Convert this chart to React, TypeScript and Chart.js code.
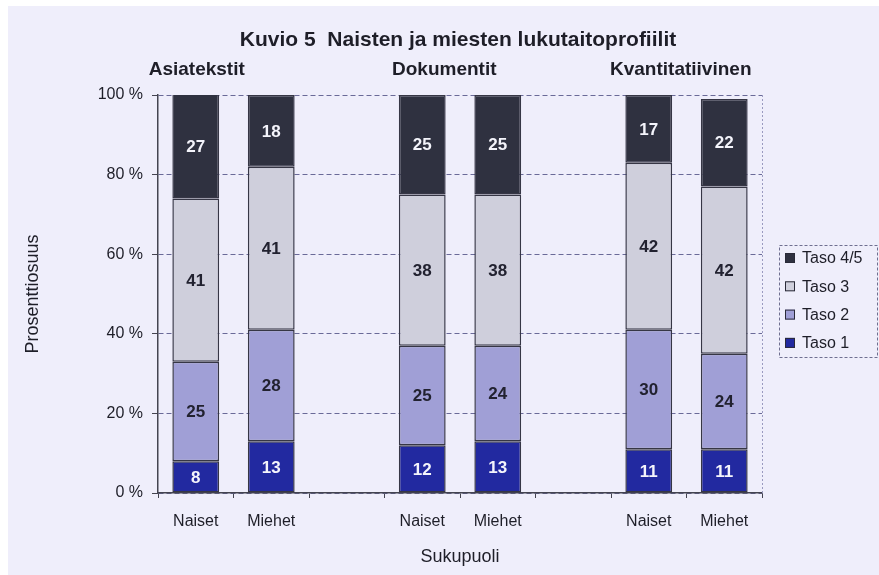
import React, { useEffect, useRef } from "react";
import { Chart, registerables } from "chart.js";

Chart.register(...registerables);

const categories = ["Naiset", "Miehet", "", "Naiset", "Miehet", "", "Naiset", "Miehet"];
const taso1 = [8, 13, null, 12, 13, null, 11, 11];
const taso2 = [25, 28, null, 25, 24, null, 30, 24];
const taso3 = [41, 41, null, 38, 38, null, 42, 42];
const taso45 = [27, 18, null, 25, 25, null, 17, 22];
const seriesNames = ["Taso 1", "Taso 2", "Taso 3", "Taso 4/5"];
const yTicks = [0, 20, 40, 60, 80, 100];
const groupNames = ["Asiatekstit", "Dokumentit", "Kvantitatiivinen"];
const chartTitle = "Kuvio 5  Naisten ja miesten lukutaitoprofiilit";
const yTitle = "Prosenttiosuus";
const xTitle = "Sukupuoli";

const FONT = "'Liberation Sans', Arial, sans-serif";
const colors = ["#2229a0", "#a09fd6", "#cfcfdc", "#2f3140"];
const labelColors = ["#f4f4fb", "#222230", "#222230", "#f4f4fb"];

const extras = {
  id: "extras",
  afterDatasetsDraw(chart: any) {
    const ctx = chart.ctx;
    ctx.save();
    ctx.font = `bold 17px ${FONT}`;
    ctx.textAlign = "center";
    ctx.textBaseline = "middle";
    chart.data.datasets.forEach((ds: any, di: number) => {
      const meta = chart.getDatasetMeta(di);
      meta.data.forEach((el: any, i: number) => {
        const v = ds.data[i];
        if (v === null || v === undefined) return;
        const top = Math.max(el.y, chart.chartArea.top);
        const cy = (top + el.base) / 2;
        ctx.fillStyle = labelColors[di];
        ctx.fillText(String(v), el.x, cy + 1);
      });
    });
    ctx.restore();
  },
  afterDraw(chart: any) {
    const ctx = chart.ctx;
    const area = chart.chartArea;
    const xs = chart.scales.x;
    ctx.save();
    // right dotted border
    ctx.strokeStyle = "#9a9ac0";
    ctx.lineWidth = 1;
    ctx.setLineDash([2, 2]);
    ctx.beginPath();
    ctx.moveTo(area.right + 0.5, area.top);
    ctx.lineTo(area.right + 0.5, area.bottom);
    ctx.stroke();
    ctx.setLineDash([]);

    // title
    ctx.fillStyle = "#1e1e28";
    ctx.textAlign = "center";
    ctx.textBaseline = "middle";
    ctx.font = `bold 21px ${FONT}`;
    ctx.fillText(chartTitle, 450, 34);
    // group labels
    ctx.font = `bold 19px ${FONT}`;
    const gx = [xs.getPixelForValue(0) + 1, xs.getPixelForValue(3) + 22, xs.getPixelForValue(6) + 32];
    groupNames.forEach((g, i) => ctx.fillText(g, gx[i], 64));

    // legend
    const lx = 771, ly = 239, lw = 98, lh = 112;
    ctx.strokeStyle = "#6f6f90";
    ctx.lineWidth = 1;
    ctx.setLineDash([3, 2]);
    ctx.strokeRect(lx + 0.5, ly + 0.5, lw, lh);
    ctx.setLineDash([]);
    ctx.font = `16px ${FONT}`;
    ctx.textAlign = "left";
    const order = [3, 2, 1, 0];
    order.forEach((di, r) => {
      const cy = ly + 13 + r * 28.3;
      ctx.fillStyle = colors[di];
      ctx.fillRect(lx + 6, cy - 5, 10, 10);
      ctx.strokeStyle = "#2a2a38";
      ctx.strokeRect(lx + 6.5, cy - 4.5, 9, 9);
      ctx.fillStyle = "#1e1e28";
      ctx.fillText(seriesNames[di], lx + 23, cy + 1);
    });
    ctx.restore();
  },
};

export default function App() {
  const ref = useRef<HTMLCanvasElement>(null);
  useEffect(() => {
    if (!ref.current) return;
    const mk = (label: string, data: any[], i: number) => ({
      label,
      data,
      backgroundColor: colors[i],
      borderColor: "#363645",
      borderWidth: 1.5,
      borderSkipped: false,
      barPercentage: 1,
      categoryPercentage: 0.62,
    });
    const chart = new Chart(ref.current, {
      type: "bar",
      data: {
        labels: categories,
        datasets: [
          mk(seriesNames[0], taso1, 0),
          mk(seriesNames[1], taso2, 1),
          mk(seriesNames[2], taso3, 2),
          mk(seriesNames[3], taso45, 3),
        ],
      },
      options: {
        responsive: false,
        animation: false,
        layout: { padding: { top: 89, right: 117, left: 0, bottom: 0 } },
        plugins: {
          legend: { display: false },
          title: { display: false },
          tooltip: { enabled: false },
        },
        scales: {
          x: {
            stacked: true,
            afterFit: (s: any) => { s.height = 82; },
            grid: { drawOnChartArea: false, drawTicks: true, tickLength: 5, color: "#444450", offset: true },
            border: { display: true, color: "#444450", width: 1.5 },
            ticks: { color: "#1e1e28", font: { family: FONT, size: 16 }, padding: 14, maxRotation: 0, autoSkip: false },
            title: { display: true, text: xTitle, color: "#1e1e28", font: { family: FONT, size: 18 }, padding: { top: 0, bottom: 7 } },
          },
          y: {
            stacked: true,
            min: 0,
            max: 100,
            afterFit: (s: any) => { s.width = 150; },
            afterBuildTicks: (s: any) => { s.ticks = yTicks.map((v) => ({ value: v })); },
            grid: { color: "#6a6a98", lineWidth: 1, tickLength: 6, tickColor: "#444450", tickBorderDash: [] },
            border: { display: true, color: "#444450", width: 1.5, dash: [] },
            ticks: { color: "#1e1e28", font: { family: FONT, size: 16 }, padding: 9, callback: (v: any) => `${v} %` },
            title: { display: true, text: yTitle, color: "#1e1e28", font: { family: FONT, size: 18 }, padding: { top: 14, bottom: 0 } },
          },
        },
      } as any,
      plugins: [extras],
    });
    // dashed gridlines
    (chart.options.scales as any).y.grid.borderDash = [5, 3];
    (chart.options.scales as any).y.border.dash = [5, 3];
    chart.update();
    return () => chart.destroy();
  }, []);
  return (
    <div style={{ position: "absolute", left: 8, top: 6, width: 871, height: 569, background: "#efeefb" }}>
      <canvas ref={ref} width={871} height={569} style={{ display: "block" }} />
    </div>
  );
}
